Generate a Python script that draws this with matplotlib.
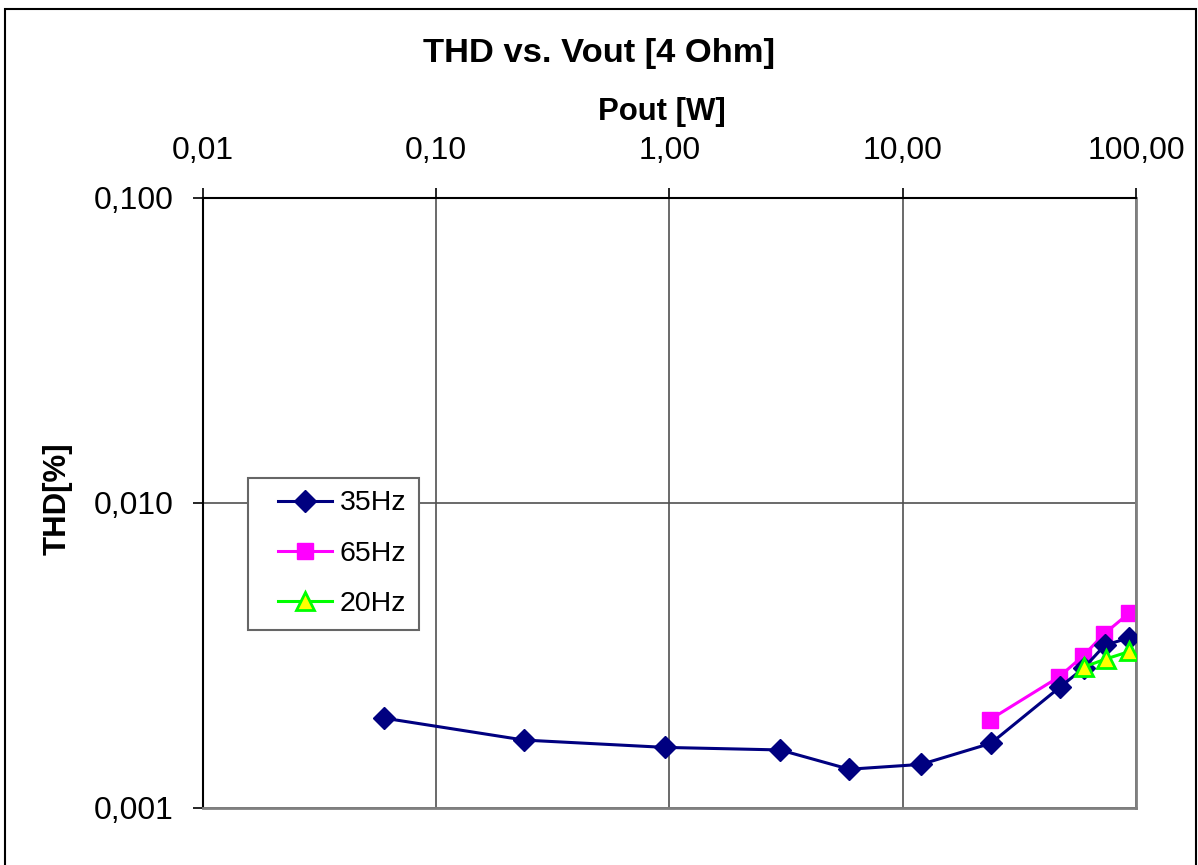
import matplotlib.pyplot as plt
import matplotlib.ticker as ticker
from matplotlib.patches import Rectangle
from matplotlib.legend_handler import HandlerLine2D

plt.rcParams['font.family'] = ['Liberation Sans', 'DejaVu Sans']

# values
p_35 = [0.060, 0.238, 0.96, 2.98, 5.9, 12.0, 23.9, 47.2, 59.8, 73.6, 93.3]
thd_35 = [0.00197, 0.00167, 0.00158, 0.00155, 0.00134, 0.00139, 0.00163, 0.00249, 0.00288, 0.00342, 0.00361]
p_65 = [23.7, 46.8, 59.3, 73.0, 93.3]
thd_65 = [0.00195, 0.00269, 0.00315, 0.00372, 0.00435]
p_20 = [59.8, 74.3, 93.8]
thd_20 = [0.00290, 0.00308, 0.00326]

x_ticks = [0.01, 0.1, 1, 10, 100]
y_ticks = [0.001, 0.01, 0.1]

fig = plt.figure(figsize=(11.98, 8.65), dpi=100)
ax = fig.add_axes([0.1694, 0.0659, 0.7788, 0.7052])

ax.plot(p_35, thd_35, color='#000080', lw=2.2, marker='D', ms=11.5,
        mfc='#000080', mec='#000080', label='35Hz', zorder=3)
ax.plot(p_65, thd_65, color='#FF00FF', lw=2.2, marker='s', ms=11,
        mfc='#FF00FF', mec='#FF00FF', label='65Hz', zorder=2)
ax.plot(p_20, thd_20, color='#00FF00', lw=2.2, marker='^', ms=13.5,
        mfc='#FFFF00', mec='#00FF00', mew=2, label='20Hz', zorder=4)

ax.set_xscale('log')
ax.set_yscale('log')
ax.set_xlim(0.01, 100)
ax.set_ylim(0.001, 0.1)

ax.xaxis.set_major_locator(ticker.FixedLocator(x_ticks))
ax.yaxis.set_major_locator(ticker.FixedLocator(y_ticks))
ax.xaxis.set_minor_locator(ticker.NullLocator())
ax.yaxis.set_minor_locator(ticker.NullLocator())
ax.xaxis.set_major_formatter(ticker.FuncFormatter(lambda v, p: f'{v:.2f}'.replace('.', ',')))
ax.yaxis.set_major_formatter(ticker.FuncFormatter(lambda v, p: f'{v:.3f}'.replace('.', ',')))

ax.xaxis.tick_top()
ax.tick_params(axis='x', which='major', direction='out', length=7, width=1.2,
               pad=16, labelsize=23, top=True, bottom=False)
ax.tick_params(axis='y', which='major', direction='out', length=7, width=1.2,
               pad=14, labelsize=23)

ax.grid(True, which='major', color='#505050', lw=1.2)

ax.spines['left'].set_color('black')
ax.spines['top'].set_color('black')
ax.spines['right'].set_color('#808080')
ax.spines['bottom'].set_color('#808080')
for s in ax.spines.values():
    s.set_linewidth(2)
ax.spines['left'].set_linewidth(1.5)
ax.spines['top'].set_linewidth(1.5)

handler = HandlerLine2D(xpad=0.6)
leg = ax.legend(loc='upper left', bbox_to_anchor=(0.048, 0.5415), fontsize=20.5,
                frameon=True, fancybox=False, framealpha=1, edgecolor='#666666',
                handlelength=2.5, handletextpad=0.28, labelspacing=0.85,
                borderpad=0.45, borderaxespad=0,
                handler_map={plt.Line2D: handler})
leg.get_frame().set_linewidth(1.5)

fig.text(0.5, 0.9376, 'THD vs. Vout [4 Ohm]', ha='center', va='center',
         fontsize=24.8, fontweight='bold')
fig.text(0.5526, 0.8705, 'Pout [W]', ha='center', va='center',
         fontsize=22.4, fontweight='bold')
fig.text(0.0484, 0.423, 'THD[%]', ha='center', va='center', rotation=90,
         fontsize=22.4, fontweight='bold')

fig.patches.append(Rectangle((5 / 1198, -0.05), 1191 / 1198, 1.05 - 9 / 865,
                             transform=fig.transFigure, fill=False,
                             edgecolor='black', lw=1.5))

fig.savefig('out.png', dpi=100)
